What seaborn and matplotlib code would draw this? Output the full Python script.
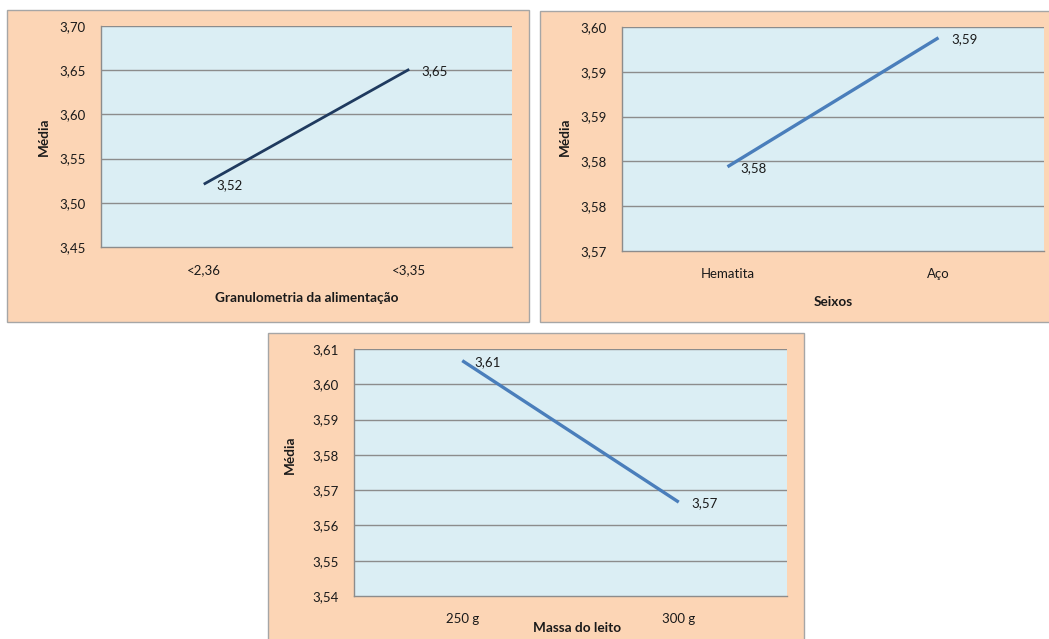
import matplotlib
matplotlib.use("Agg")
import matplotlib.pyplot as plt
from matplotlib.patches import Rectangle
import pandas as pd
import seaborn as sns

# ---- data -------------------------------------------------------------
granulometria = ["<2,36", "<3,35"]
granulometria_media = [3.521, 3.651]
granulometria_yticks = [3.45, 3.50, 3.55, 3.60, 3.65, 3.70]
granulometria_yticklabels = ["3,45", "3,50", "3,55", "3,60", "3,65", "3,70"]

seixos = ["Hematita", "Aço"]
seixos_media = [3.5794, 3.5938]
seixos_yticks = [3.570, 3.575, 3.580, 3.585, 3.590, 3.595]
seixos_yticklabels = ["3,57", "3,58", "3,58", "3,59", "3,59", "3,60"]

massa = ["250 g", "300 g"]
massa_media = [3.6067, 3.5666]
massa_yticks = [3.54, 3.55, 3.56, 3.57, 3.58, 3.59, 3.60, 3.61]
massa_yticklabels = ["3,54", "3,55", "3,56", "3,57", "3,58", "3,59", "3,60", "3,61"]

# ---- style ------------------------------------------------------------
sns.set_style("white")
plt.rcParams["font.family"] = ["Lato", "DejaVu Sans"]

W, H = 1049, 639
PANEL = "#FCD5B5"
PLOT_BG = "#DBEEF4"
GRID = "#8C8C8C"
AXIS = "#8C8C8C"
BORDER = "#A6A6A6"
TEXT = "#1A1A1A"
TICK_FS = 9.5
TITLE_FS = 9.8

fig = plt.figure(figsize=(W / 100, H / 100), dpi=100)
fig.patch.set_facecolor("white")


def frac_rect(x0, y0, x1, y1):
    return [x0 / W, 1 - y1 / H, (x1 - x0) / W, (y1 - y0) / H]


def panel(x0, y0, x1, y1):
    fig.patches.append(Rectangle((x0 / W, 1 - y1 / H), (x1 - x0) / W, (y1 - y0) / H,
                                 transform=fig.transFigure, facecolor=PANEL,
                                 edgecolor=BORDER, linewidth=1.0, zorder=-5))


def fmt(v):
    return f"{v:.2f}".replace(".", ",")


def chart(plot_box, cats, values, yticks, yticklabels, color, lw, xlabel, xlabel_xy, ylabel_xy):
    ax = fig.add_axes(frac_rect(*plot_box))
    ax.set_facecolor(PLOT_BG)
    df = pd.DataFrame({"cat": cats, "media": values})
    sns.lineplot(data=df, x="cat", y="media", ax=ax, color=color, linewidth=lw,
                 sort=False, solid_capstyle="butt")
    ax.set_xlim(-0.5, 1.5)
    ax.set_ylim(yticks[0], yticks[-1])
    ax.set_yticks(yticks)
    ax.set_yticklabels(yticklabels)
    ax.set_xticks([0, 1])
    ax.set_xticklabels(cats)
    ax.set_xticks([-0.5, 0.5, 1.5], minor=True)
    ax.tick_params(axis="x", which="major", length=0, pad=12.5, labelsize=TICK_FS,
                   labelcolor=TEXT)
    ax.tick_params(axis="x", which="minor", length=4, width=1, color=AXIS, direction="out")
    ax.tick_params(axis="y", which="major", length=4, width=1, color=AXIS, direction="out",
                   pad=7, labelsize=TICK_FS, labelcolor=TEXT)
    ax.set_xlabel("")
    ax.set_ylabel("")
    for y in yticks[1:]:
        ax.axhline(y, color=GRID, linewidth=1.0, zorder=0.5)
    for side in ("top", "right"):
        ax.spines[side].set_visible(False)
    for side in ("left", "bottom"):
        ax.spines[side].set_color(AXIS)
        ax.spines[side].set_linewidth(1.0)
    for i, v in enumerate(values):
        ax.annotate(fmt(v), (i, v), xytext=(9, -1), textcoords="offset points",
                    ha="left", va="center", fontsize=TICK_FS, color=TEXT)
    fig.text(xlabel_xy[0] / W, 1 - xlabel_xy[1] / H, xlabel, ha="center", va="center",
             fontsize=TITLE_FS, fontweight="bold", color=TEXT)
    fig.text(ylabel_xy[0] / W, 1 - ylabel_xy[1] / H, "Média", ha="center", va="center",
             rotation=90, fontsize=TITLE_FS, fontweight="bold", color=TEXT)
    return ax


# panel frames
panel(7, 10, 529, 322)
panel(540, 11, 1052, 322)
panel(268, 333, 804, 645)

chart((101, 26, 512, 247), granulometria, granulometria_media,
      granulometria_yticks, granulometria_yticklabels, "#1F3A5F", 2.0,
      "Granulometria da alimentação", (307, 298), (44, 137))

chart((622, 27, 1044, 251), seixos, seixos_media,
      seixos_yticks, seixos_yticklabels, "#4A7EBB", 2.4,
      "Seixos", (833, 302), (565, 137))

chart((354, 349, 787, 596), massa, massa_media,
      massa_yticks, massa_yticklabels, "#4A7EBB", 2.4,
      "Massa do leito", (577, 628), (290, 455))

fig.savefig("out.png", dpi=100, facecolor="white")
